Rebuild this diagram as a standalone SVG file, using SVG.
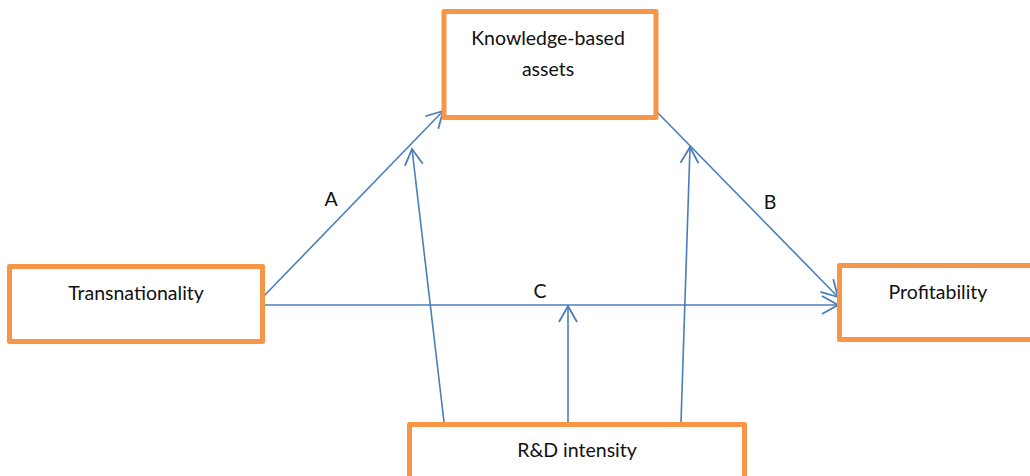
<svg xmlns="http://www.w3.org/2000/svg" width="1030" height="476" viewBox="0 0 1030 476">
<style>
.box{fill:#fff;stroke:#f79646;stroke-width:5;stroke-linejoin:round}
.t{font-family:Lato,"Open Sans",sans-serif;font-size:19.5px;fill:#111;text-anchor:middle}
.c{stroke:#4a7ebb;stroke-width:1.6;fill:none;marker-end:url(#ah)}
</style>
<defs>
<marker id="ah" markerUnits="userSpaceOnUse" markerWidth="24" markerHeight="24" refX="20" refY="12" orient="auto" viewBox="0 0 24 24">
<path d="M4,3 L20,12 L4,21" fill="none" stroke="#4a7ebb" stroke-width="1.8"/>
</marker>
</defs>
<rect width="1030" height="476" fill="#fff"/>
<g id="connectors">
<line class="c" x1="263" y1="297" x2="443" y2="111"/>
<line class="c" x1="657" y1="112" x2="838" y2="297"/>
<line class="c" x1="263" y1="305" x2="838" y2="305"/>
<line class="c" x1="444" y1="422" x2="412" y2="149"/>
<line class="c" x1="568" y1="422" x2="568" y2="306"/>
<line class="c" x1="681" y1="422" x2="690" y2="147"/>
<text class="t" x="331" y="206">A</text>
<text class="t" x="770" y="209">B</text>
<text class="t" x="540" y="298">C</text>
</g>
<g id="knowledge">
<rect class="box" x="444" y="11.5" width="212" height="106"/>
<text class="t" x="548" y="45">Knowledge-based</text>
<text class="t" x="548" y="76">assets</text>
</g>
<g id="transnationality">
<rect class="box" x="9.5" y="266.5" width="253" height="75"/>
<text class="t" x="136" y="300">Transnationality</text>
</g>
<g id="profitability">
<rect class="box" x="839.5" y="265.5" width="200" height="74"/>
<text class="t" x="938" y="299">Profitability</text>
</g>
<g id="rnd">
<rect class="box" x="409.5" y="424.5" width="335" height="70"/>
<text class="t" x="577" y="457">R&amp;D intensity</text>
</g>
</svg>
